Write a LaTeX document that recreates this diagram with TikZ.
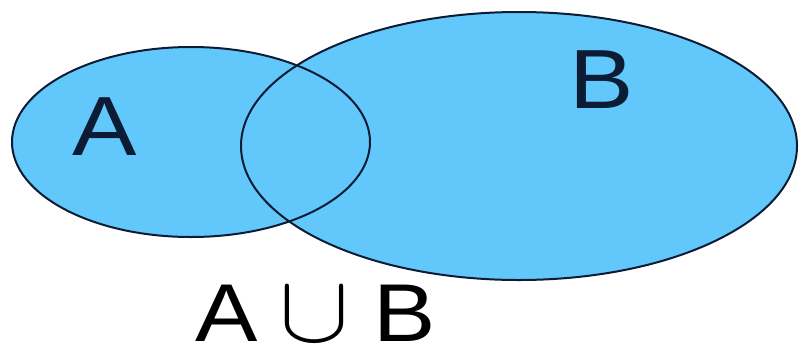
\documentclass[tikz,border=0pt]{standalone}
\usepackage{fontspec}
\setmainfont{Liberation Sans}
\definecolor{setfill}{RGB}{98,199,250}
\definecolor{setline}{RGB}{12,28,52}
\tikzset{
  setshape/.style={fill=setfill},
  setedge/.style={draw=setline, line width=2pt},
  biglabel/.style={inner sep=0pt, text=setline, font=\fontsize{84}{84}\selectfont},
  botlabel/.style={inner sep=0pt, text=black, font=\fontsize{82}{82}\selectfont}
}
\begin{document}
\begin{tikzpicture}[x=1pt,y=-1pt]
\useasboundingbox (0,0) rectangle (799,351);
\fill[white] (0,0) rectangle (799,351);
% fills
\path[setshape] (191,142) ellipse [x radius=179pt, y radius=95pt];
\path[setshape] (519,146) ellipse [x radius=278pt, y radius=134pt];
% outlines
\path[setedge] (191,142) ellipse [x radius=179pt, y radius=95pt];
\path[setedge] (519,146) ellipse [x radius=278pt, y radius=134pt];
% labels
\node[biglabel] (labA) at (105,127) {\scalebox{1.15}[1]{A}};
\node[biglabel] (labB) at (602,80) {\scalebox{1.15}[1]{B}};
\node[botlabel] (uA) at (227,313) {\scalebox{1.14}[1]{A}};
\node[inner sep=0pt] (uCup) at (314,315) {\scalebox{10.5}[9.6]{\fontsize{10}{10}\selectfont$\cup$}};
\node[botlabel] (uB) at (405,313) {\scalebox{1.14}[1]{B}};
\end{tikzpicture}
\end{document}
